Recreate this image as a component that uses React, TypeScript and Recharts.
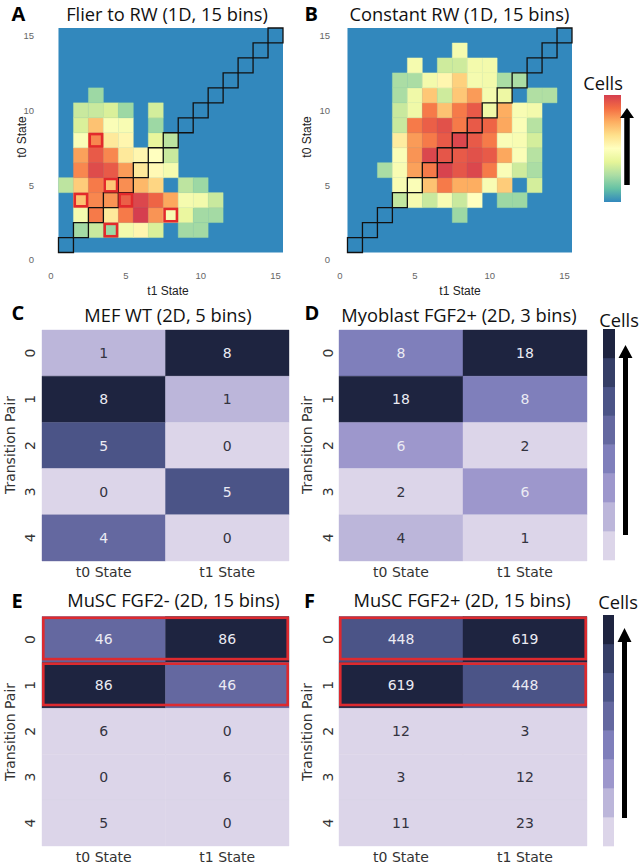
import React from 'react';
import { ScatterChart, Scatter, XAxis, YAxis, ReferenceArea } from 'recharts';

// ---------- palettes ----------
const SPECTRAL = ['#3288bd', '#66c2a5', '#abdda4', '#e6f598', '#ffffbf', '#fee08b', '#fdae61', '#f46d43', '#d53e4f'];
const PURPLES = ['#dcd5e9', '#bcb6da', '#9d97cc', '#7f7fbb', '#6468a0', '#4b5487', '#353e66', '#1e2440'];

// ---------- 1D panels (A, B) ----------
const STATES_1D = [1, 2, 3, 4, 5, 6, 7, 8, 9, 10, 11, 12, 13, 14, 15];
const AXIS_TICKS_1D = [0, 5, 10, 15];

// relative cell density (colour level), rows = t0 state 1..15, columns = t1 state 1..15
const FLIER_LEVELS: number[][] = [
  [0, 0, 0, 0, 0, 0, 0, 0, 0, 0, 0, 0, 0, 0, 0],
  [0, 1.9, 2.5, 1.8, 3.5, 4.3, 2.8, 0, 1.9, 1.9, 0, 0, 0, 0, 0],
  [0, 3.6, 6.8, 4.7, 6.8, 8.0, 6.4, 3.7, 3.2, 1.9, 1.9, 0, 0, 0, 0],
  [0, 5.6, 6.6, 6.4, 7.3, 7.8, 7.2, 6.1, 3.6, 3.5, 2.5, 0, 0, 0, 0],
  [2.3, 5.4, 6.8, 5.5, 6.5, 5.8, 5.2, 0, 2.3, 1.8, 0, 0, 0, 0, 0],
  [0, 6.6, 7.7, 7.4, 6.3, 4.7, 4.2, 3.6, 0, 0, 0, 0, 0, 0, 0],
  [0, 6.2, 7.4, 6.6, 4.7, 4.3, 4.0, 2.5, 0, 0, 0, 0, 0, 0, 0],
  [0, 3.8, 6.6, 4.7, 4.3, 0, 3.1, 2.3, 0, 0, 0, 0, 0, 0, 0],
  [0, 2.8, 5.6, 3.8, 3.7, 0, 1.8, 0, 0, 0, 0, 0, 0, 0, 0],
  [0, 2.5, 2.5, 2.8, 1.8, 0, 2.7, 0, 0, 0, 0, 0, 0, 0, 0],
  [0, 0, 1.8, 0, 0, 0, 0, 0, 0, 0, 0, 0, 0, 0, 0],
  [0, 0, 0, 0, 0, 0, 0, 0, 0, 0, 0, 0, 0, 0, 0],
  [0, 0, 0, 0, 0, 0, 0, 0, 0, 0, 0, 0, 0, 0, 0],
  [0, 0, 0, 0, 0, 0, 0, 0, 0, 0, 0, 0, 0, 0, 0],
  [0, 0, 0, 0, 0, 0, 0, 0, 0, 0, 0, 0, 0, 0, 0],
];

const CONSTANT_LEVELS: number[][] = [
  [0, 0, 0, 0, 0, 0, 0, 0, 0, 0, 0, 0, 0, 0, 0],
  [0, 0, 0, 0, 0, 0, 0, 0, 0, 0, 0, 0, 0, 0, 0],
  [0, 0, 0, 0, 0, 0, 0, 1.8, 0, 0, 0, 0, 0, 0, 0],
  [0, 0, 0, 2.4, 3.6, 2.5, 3.7, 2.5, 4.0, 0, 1.8, 1.8, 0, 0, 0],
  [0, 0, 0, 3.7, 3.8, 5.6, 6.8, 6.0, 6.0, 3.7, 5.4, 0, 2.7, 0, 0],
  [0, 0, 2.0, 3.7, 6.2, 6.8, 7.9, 7.5, 7.8, 6.8, 3.8, 2.6, 2.0, 0, 0],
  [0, 0, 0, 3.8, 6.4, 7.8, 7.5, 7.4, 7.6, 7.4, 6.1, 3.8, 2.2, 0, 0],
  [0, 0, 0, 4.6, 6.3, 6.8, 7.4, 7.8, 7.4, 6.8, 3.8, 3.7, 2.7, 0, 0],
  [0, 0, 0, 2.5, 6.8, 7.3, 7.6, 6.8, 7.4, 7.2, 6.1, 3.8, 2.2, 0, 0],
  [0, 0, 0, 2.5, 3.4, 6.8, 5.6, 6.8, 7.4, 3.4, 6.0, 3.7, 3.5, 0, 0],
  [0, 0, 0, 2.0, 3.4, 5.5, 2.6, 5.5, 6.3, 3.6, 3.3, 0, 2.1, 2.1, 0],
  [0, 0, 0, 2.0, 2.0, 3.5, 4.3, 5.3, 3.6, 3.5, 2.0, 2.0, 0, 0, 0],
  [0, 0, 0, 0, 3.6, 0, 2.6, 2.6, 3.5, 3.5, 0, 0, 0, 0, 0],
  [0, 0, 0, 0, 0, 0, 0, 3.6, 0, 0, 0, 0, 0, 0, 0],
  [0, 0, 0, 0, 0, 0, 0, 0, 0, 0, 0, 0, 0, 0, 0],
];

const FLIER_HIGHLIGHTS = [
  { t1: 3, t0: 8 },
  { t1: 4, t0: 5 },
  { t1: 2, t0: 4 },
  { t1: 5, t0: 4 },
  { t1: 8, t0: 3 },
  { t1: 4, t0: 2 },
];

// ---------- 2D panels (C-F) ----------
const PAIRS = [0, 1, 2, 3, 4];
const STATE_LABELS = ['t0 State', 't1 State'];

const MEF_T0 = [1, 8, 5, 0, 4];
const MEF_T1 = [8, 1, 0, 5, 0];
const MYO_T0 = [8, 18, 6, 2, 4];
const MYO_T1 = [18, 8, 2, 6, 1];
const MUSC_MINUS_T0 = [46, 86, 6, 0, 5];
const MUSC_MINUS_T1 = [86, 46, 0, 6, 0];
const MUSC_PLUS_T0 = [448, 619, 12, 3, 11];
const MUSC_PLUS_T1 = [619, 448, 3, 12, 23];
const MUSC_HIGHLIGHT_PAIRS = [0, 1];

// ---------- helpers ----------
function lerpColor(a: string, b: string, t: number) {
  const pa = parseInt(a.slice(1), 16);
  const pb = parseInt(b.slice(1), 16);
  const ch = (p: number, s: number) => (p >> s) & 255;
  const mix = (s: number) => Math.round(ch(pa, s) + (ch(pb, s) - ch(pa, s)) * t);
  return `rgb(${mix(16)},${mix(8)},${mix(0)})`;
}
function spectralColor(level: number) {
  const l = Math.max(0, Math.min(8, level));
  const i = Math.min(7, Math.floor(l));
  return lerpColor(SPECTRAL[i], SPECTRAL[i + 1], l - i);
}
function purpleIndex(v: number, max: number) {
  return Math.min(7, Math.floor((v / max) * 8));
}

const insetBox = (color: string, sw: number, extraBottom: number) => (p: any) => (
  <rect
    x={p.x + sw / 2}
    y={p.y + sw / 2}
    width={Math.max(0, p.width - sw)}
    height={Math.max(0, p.height - sw - extraBottom)}
    fill="none"
    stroke={color}
    strokeWidth={sw}
  />
);

const TICK_1D = { fill: '#666', fontSize: 9.5, fontFamily: '"Liberation Sans", Arial, sans-serif' };

function Heatmap1D({ left, levels, highlights, yTickMargin }: any) {
  const cells: any[] = [];
  levels.forEach((row: number[], ri: number) =>
    row.forEach((lv: number, ci: number) => {
      if (lv > 0) cells.push({ t1: STATES_1D[ci], t0: STATES_1D[ri], lv });
    })
  );
  return (
    <div style={{ position: 'absolute', left, top: 0 }}>
      <ScatterChart width={290} height={300} margin={{ top: 28, right: 7, bottom: 10, left: 0 }}>
        <XAxis
          type="number"
          dataKey="t1"
          domain={[0, 15.5]}
          ticks={AXIS_TICKS_1D}
          allowDataOverflow
          axisLine={false}
          tickLine={false}
          tickSize={0}
          tickMargin={12}
          height={30}
          tick={TICK_1D}
          interval={0}
        />
        <YAxis
          type="number"
          dataKey="t0"
          domain={[0, 15.5]}
          ticks={AXIS_TICKS_1D}
          allowDataOverflow
          axisLine={false}
          tickLine={false}
          tickSize={0}
          tickMargin={yTickMargin}
          width={51}
          tick={TICK_1D}
          interval={0}
        />
        <ReferenceArea x1={0.5} x2={15.5} y1={0.5} y2={15.5} fill={SPECTRAL[0]} fillOpacity={1} stroke="none" />
        {cells.map((c) => {
          const col = spectralColor(c.lv);
          return (
            <ReferenceArea
              key={`c${c.t0}-${c.t1}`}
              x1={c.t1 - 0.5}
              x2={c.t1 + 0.5}
              y1={c.t0 - 0.5}
              y2={c.t0 + 0.5}
              fill={col}
              fillOpacity={1}
              stroke={col}
              strokeWidth={0.4}
            />
          );
        })}
        {STATES_1D.map((s) => (
          <ReferenceArea
            key={`d${s}`}
            x1={s - 0.5}
            x2={s + 0.5}
            y1={s - 0.5}
            y2={s + 0.5}
            fill="none"
            stroke="#111"
            strokeWidth={1.3}
          />
        ))}
        {highlights.map((h: any) => (
          <ReferenceArea
            key={`h${h.t0}-${h.t1}`}
            x1={h.t1 - 0.5}
            x2={h.t1 + 0.5}
            y1={h.t0 - 0.5}
            y2={h.t0 + 0.5}
            shape={insetBox('#e3292b', 2.6, 0)}
          />
        ))}
        <Scatter data={cells} isAnimationActive={false} shape={() => <g />} />
      </ScatterChart>
    </div>
  );
}

function Heatmap2D({ left, top, height, marginTop, plotWidth, t0, t1, highlight, yTickMargin, xAxisHeight, marginBottom }: any) {
  const max = Math.max(...t0, ...t1);
  const columns = [t0, t1];
  const cells = PAIRS.flatMap((p, r) =>
    columns.map((col: number[], c) => ({ x: c + 0.5, y: p + 0.5, v: col[r], idx: purpleIndex(col[r], max) }))
  );
  const XTick = ({ x, y, payload }: any) => (
    <text x={x} y={y} textAnchor="middle" dominantBaseline="central" fill="#333" fontSize={14} fontFamily='"DejaVu Sans", sans-serif'>
      {STATE_LABELS[Math.floor(payload.value)]}
    </text>
  );
  const YTick = ({ x, y, payload }: any) => (
    <text
      x={x}
      y={y}
      textAnchor="middle"
      dominantBaseline="central"
      transform={`rotate(-90, ${x}, ${y})`}
      fill="#333"
      fontSize={14}
      fontFamily='"DejaVu Sans", sans-serif'
    >
      {PAIRS[Math.floor(payload.value)]}
    </text>
  );
  const ValueShape = (p: any) => {
    const d = p.payload;
    return (
      <text
        x={p.cx}
        y={p.cy}
        textAnchor="middle"
        dominantBaseline="central"
        fill={d.idx >= 2 ? '#ebebf3' : '#33333f'}
        fontSize={14}
        fontFamily='"DejaVu Sans", sans-serif'
      >
        {d.v}
      </text>
    );
  };
  return (
    <div style={{ position: 'absolute', left, top }}>
      <ScatterChart width={42 + plotWidth + 10} height={height} margin={{ top: marginTop, right: 10, bottom: marginBottom, left: 0 }}>
        <XAxis
          type="number"
          dataKey="x"
          domain={[0, 2]}
          ticks={[0.5, 1.5]}
          allowDataOverflow
          axisLine={false}
          tickLine={false}
          tickSize={0}
          tickMargin={11}
          height={xAxisHeight}
          tick={<XTick />}
          interval={0}
        />
        <YAxis
          type="number"
          dataKey="y"
          domain={[0, 5]}
          reversed
          ticks={[0.5, 1.5, 2.5, 3.5, 4.5]}
          allowDataOverflow
          axisLine={false}
          tickLine={false}
          tickSize={0}
          tickMargin={yTickMargin}
          width={42}
          tick={<YTick />}
          interval={0}
        />
        {cells.map((c) => (
          <ReferenceArea
            key={`${c.x}-${c.y}`}
            x1={c.x - 0.5}
            x2={c.x + 0.5}
            y1={c.y - 0.5}
            y2={c.y + 0.5}
            fill={PURPLES[c.idx]}
            fillOpacity={1}
            stroke={PURPLES[c.idx]}
            strokeWidth={0.4}
          />
        ))}
        {(highlight || []).map((r: number) => (
          <ReferenceArea key={`hl${r}`} x1={0} x2={2} y1={r} y2={r + 1} shape={insetBox('#dd2a2f', 2.6, 2)} />
        ))}
        <Scatter data={cells} isAnimationActive={false} shape={<ValueShape />} />
      </ScatterChart>
    </div>
  );
}

const TITLE_FONT = '"Open Sans", "Noto Sans", sans-serif';
const ARIAL = '"Liberation Sans", Arial, sans-serif';
const DEJAVU = '"DejaVu Sans", sans-serif';

function Arrow({ x, top, bottom, headLen, headW, shaftW }: any) {
  const pts = [
    [x, top],
    [x + headW / 2, top + headLen],
    [x + shaftW / 2, top + headLen],
    [x + shaftW / 2, bottom],
    [x - shaftW / 2, bottom],
    [x - shaftW / 2, top + headLen],
    [x - headW / 2, top + headLen],
  ]
    .map((p) => p.join(','))
    .join(' ');
  return <polygon points={pts} fill="#000" />;
}

function DiscreteBar({ x, top, bottom, width }: any) {
  const seg = (bottom - top) / PURPLES.length;
  return (
    <g>
      {PURPLES.map((c, i) => (
        <rect key={c} x={x} y={top + (PURPLES.length - 1 - i) * seg} width={width} height={seg + 0.3} fill={c} />
      ))}
    </g>
  );
}

export default function App() {
  const titleStyle = { fontFamily: TITLE_FONT, fontSize: 18.3, fill: '#111' } as any;
  const letterStyle = { fontFamily: TITLE_FONT, fontSize: 20, fontWeight: 700, fill: '#000' } as any;
  return (
    <div style={{ position: 'absolute', left: 0, top: 0, width: 642, height: 865, overflow: 'hidden', background: '#fff' }}>
      <Heatmap1D left={0} levels={FLIER_LEVELS} highlights={FLIER_HIGHLIGHTS} yTickMargin={17} />
      <Heatmap1D left={289} levels={CONSTANT_LEVELS} highlights={[]} yTickMargin={10} />
      <Heatmap2D left={0} top={300} height={290} marginTop={30} plotWidth={247} t0={MEF_T0} t1={MEF_T1} yTickMargin={12} xAxisHeight={20} marginBottom={9} />
      <Heatmap2D left={297} top={300} height={290} marginTop={30} plotWidth={248} t0={MYO_T0} t1={MYO_T1} yTickMargin={11} xAxisHeight={20} marginBottom={9} />
      <Heatmap2D left={0} top={590} height={275} marginTop={26.5} plotWidth={247} t0={MUSC_MINUS_T0} t1={MUSC_MINUS_T1} highlight={MUSC_HIGHLIGHT_PAIRS} yTickMargin={12} xAxisHeight={19} marginBottom={0} />
      <Heatmap2D left={297} top={590} height={275} marginTop={26.5} plotWidth={248} t0={MUSC_PLUS_T0} t1={MUSC_PLUS_T1} highlight={MUSC_HIGHLIGHT_PAIRS} yTickMargin={11} xAxisHeight={19} marginBottom={0} />

      <svg width={642} height={865} style={{ position: 'absolute', left: 0, top: 0, pointerEvents: 'none' }}>
        <defs>
          <linearGradient id="spectralBar" x1="0" y1="1" x2="0" y2="0">
            {SPECTRAL.map((c, i) => (
              <stop key={c} offset={i / (SPECTRAL.length - 1)} stopColor={c} />
            ))}
          </linearGradient>
        </defs>

        {/* panel letters */}
        <text x={11.5} y={21} style={letterStyle}>A</text>
        <text x={304.5} y={21} style={letterStyle}>B</text>
        <text x={11.5} y={320} style={letterStyle}>C</text>
        <text x={304.5} y={320} style={letterStyle}>D</text>
        <text x={11.5} y={608} style={letterStyle}>E</text>
        <text x={304} y={608} style={letterStyle}>F</text>

        {/* titles */}
        <text x={167} y={21} textAnchor="middle" style={titleStyle}>Flier to RW (1D, 15 bins)</text>
        <text x={459.5} y={21} textAnchor="middle" style={titleStyle}>Constant RW (1D, 15 bins)</text>
        <text x={168} y={321.5} textAnchor="middle" style={titleStyle}>MEF WT (2D, 5 bins)</text>
        <text x={459} y={321.5} textAnchor="middle" style={titleStyle}>Myoblast FGF2+ (2D, 3 bins)</text>
        <text x={173.5} y={606.5} textAnchor="middle" style={titleStyle}>MuSC FGF2- (2D, 15 bins)</text>
        <text x={462} y={606.5} textAnchor="middle" style={titleStyle}>MuSC FGF2+ (2D, 15 bins)</text>

        {/* 1D axis labels */}
        <text x={168} y={290.5} textAnchor="middle" dominantBaseline="central" fontFamily={ARIAL} fontSize={12} fill="#222">t1 State</text>
        <text x={460} y={290.5} textAnchor="middle" dominantBaseline="central" fontFamily={ARIAL} fontSize={12} fill="#222">t1 State</text>
        <text x={21.5} y={137} textAnchor="middle" dominantBaseline="central" transform="rotate(-90, 21.5, 137)" fontFamily={ARIAL} fontSize={12} fill="#222">t0 State</text>
        <text x={306.5} y={137} textAnchor="middle" dominantBaseline="central" transform="rotate(-90, 306.5, 137)" fontFamily={ARIAL} fontSize={12} fill="#222">t0 State</text>

        {/* 2D axis labels */}
        {[
          [10, 445],
          [307, 445],
          [10, 732],
          [307, 732],
        ].map(([x, y]) => (
          <text key={`tp${x}-${y}`} x={x} y={y} textAnchor="middle" dominantBaseline="central" transform={`rotate(-90, ${x}, ${y})`} fontFamily={DEJAVU} fontSize={14} fill="#333">
            Transition Pair
          </text>
        ))}

        {/* colour bars */}
        <text x={603} y={90} textAnchor="middle" style={titleStyle}>Cells</text>
        <rect x={604} y={95} width={17} height={107} fill="url(#spectralBar)" />
        <Arrow x={627} top={108} bottom={185} headLen={10} headW={14} shaftW={5.5} />

        <text x={619} y={327} textAnchor="middle" style={titleStyle}>Cells</text>
        <DiscreteBar x={603} top={329} bottom={560} width={12} />
        <Arrow x={625.5} top={345} bottom={535} headLen={13} headW={14} shaftW={5} />

        <text x={618} y={609} textAnchor="middle" style={titleStyle}>Cells</text>
        <DiscreteBar x={603} top={615} bottom={846} width={11} />
        <Arrow x={624.5} top={628} bottom={818} headLen={14} headW={14} shaftW={5} />
      </svg>
    </div>
  );
}
